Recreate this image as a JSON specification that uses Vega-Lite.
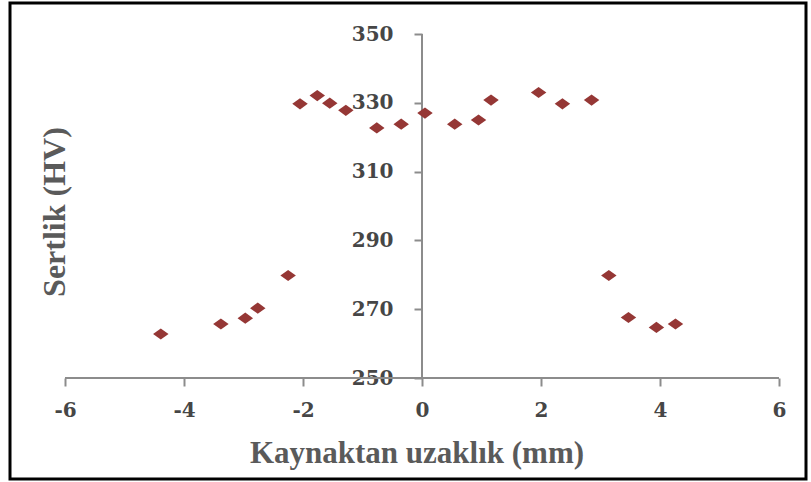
{
  "$schema": "https://vega.github.io/schema/vega-lite/v6.json",
  "autosize": "none",
  "width": 796,
  "height": 476,
  "padding": {"left": 10, "top": 3, "right": 5, "bottom": 3},
  "background": "white",
  "config": {
    "view": {"stroke": "#000000", "strokeWidth": 3},
    "axis": {"grid": false, "domain": false}
  },
  "data": {
    "values": [
      {"mm": -4.39, "hv": 262.8},
      {"mm": -3.38, "hv": 265.7},
      {"mm": -2.97, "hv": 267.4},
      {"mm": -2.76, "hv": 270.3},
      {"mm": -2.25, "hv": 279.8},
      {"mm": -2.05, "hv": 329.7},
      {"mm": -1.76, "hv": 332.1},
      {"mm": -1.55, "hv": 329.9},
      {"mm": -1.28, "hv": 327.8},
      {"mm": -0.76, "hv": 322.7},
      {"mm": -0.35, "hv": 323.8},
      {"mm": 0.05, "hv": 327.0},
      {"mm": 0.55, "hv": 323.8},
      {"mm": 0.95, "hv": 325.0},
      {"mm": 1.16, "hv": 330.8},
      {"mm": 1.96, "hv": 333.0},
      {"mm": 2.36, "hv": 329.7},
      {"mm": 2.85, "hv": 330.8},
      {"mm": 3.14, "hv": 279.8},
      {"mm": 3.47, "hv": 267.6},
      {"mm": 3.94, "hv": 264.7},
      {"mm": 4.26, "hv": 265.7}
    ]
  },
  "layer": [
    {
      "mark": {"type": "rule", "color": "#8c8c8c", "strokeWidth": 2},
      "encoding": {
        "x": {"datum": -6, "type": "quantitative"},
        "x2": {"datum": 6},
        "y": {"datum": 250, "type": "quantitative"}
      }
    },
    {
      "mark": {"type": "rule", "color": "#8c8c8c", "strokeWidth": 2},
      "encoding": {
        "x": {"datum": 0, "type": "quantitative"},
        "y": {"datum": 250, "type": "quantitative"},
        "y2": {"datum": 350}
      }
    },
    {
      "mark": {
        "type": "point",
        "shape": "M-1,0L0,-0.72L1,0L0,0.72Z",
        "filled": true,
        "size": 240,
        "color": "#953735",
        "opacity": 1
      },
      "encoding": {
        "x": {
          "field": "mm",
          "type": "quantitative",
          "scale": {"domain": [-6.9244, 6.4538], "nice": false, "zero": false},
          "axis": {
            "orient": "bottom",
            "offset": -101,
            "values": [-6, -4, -2, 0, 2, 4, 6],
            "labelExpr": "'' + datum.value",
            "ticks": true,
            "tickSize": 8,
            "tickWidth": 2,
            "tickColor": "#8c8c8c",
            "labelFont": "DejaVu Serif",
            "labelFontWeight": "bold",
            "labelFontSize": 20,
            "labelColor": "#464646",
            "labelPadding": 14,
            "labelFlush": false,
            "labelOverlap": false,
            "labelBound": false,
            "title": "Kaynaktan uzaklık (mm)",
            "titleFont": "Liberation Serif",
            "titleFontWeight": "bold",
            "titleFontSize": 31,
            "titleColor": "#5a5a5a",
            "titleX": 406.5,
            "titleY": 84,
            "titleAlign": "center",
            "titleBaseline": "alphabetic",
            "titleAnchor": null
          }
        },
        "y": {
          "field": "hv",
          "type": "quantitative",
          "scale": {"domain": [220.64, 359.012], "nice": false, "zero": false},
          "axis": {
            "orient": "left",
            "offset": -412,
            "values": [250, 270, 290, 310, 330, 350],
            "ticks": true,
            "tickSize": 8,
            "tickWidth": 2,
            "tickColor": "#8c8c8c",
            "labelFont": "DejaVu Serif",
            "labelFontWeight": "bold",
            "labelFontSize": 20,
            "labelColor": "#464646",
            "labelPadding": 21,
            "labelFlush": false,
            "labelOverlap": false,
            "labelBound": false,
            "title": "Sertlik (HV)",
            "titleFont": "Liberation Serif",
            "titleFontWeight": "bold",
            "titleFontSize": 32,
            "titleColor": "#5a5a5a",
            "titleX": -368,
            "titleY": 208.5,
            "titleAngle": -90,
            "titleAlign": "center",
            "titleBaseline": "middle",
            "titleAnchor": null
          }
        }
      }
    }
  ]
}
